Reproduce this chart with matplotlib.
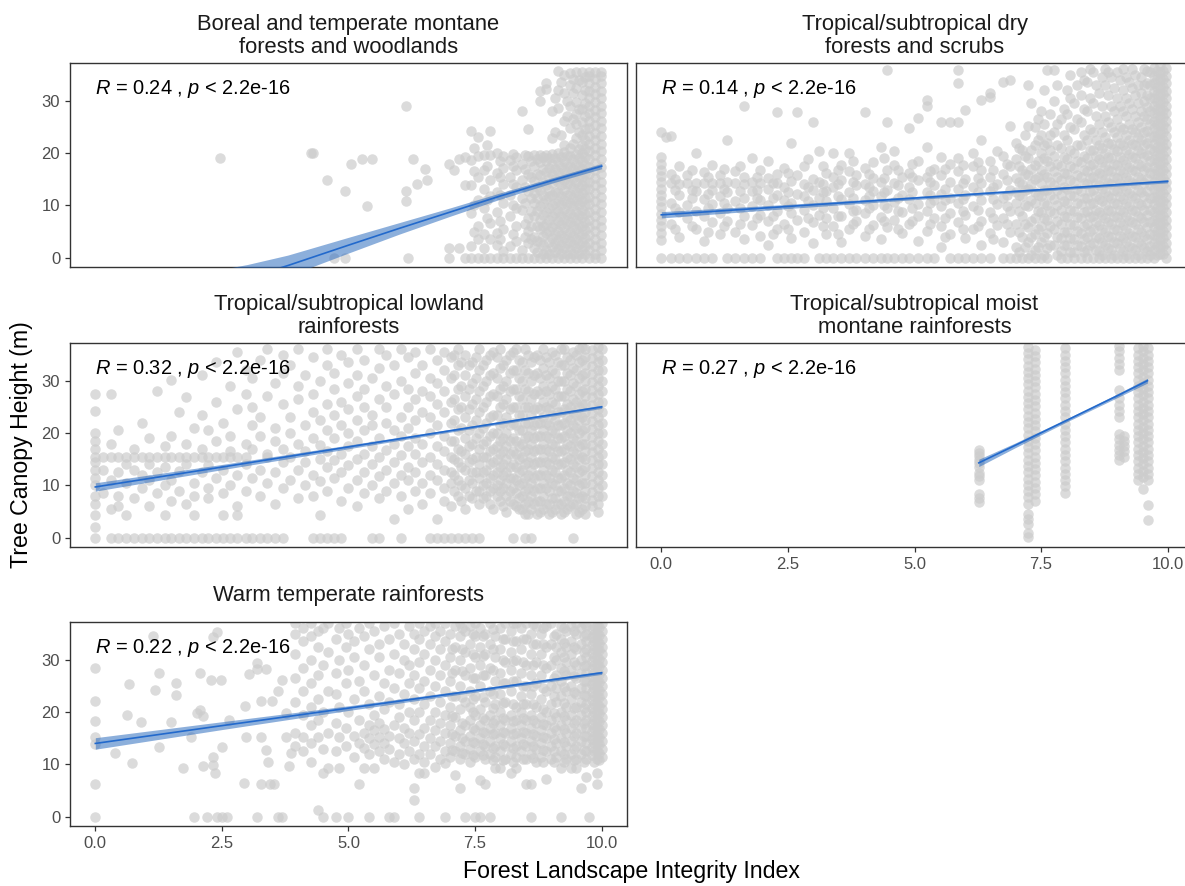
import matplotlib
matplotlib.use("Agg")
import matplotlib.pyplot as plt
import numpy as np

plt.rcParams["font.family"] = ["Liberation Sans", "DejaVu Sans"]
plt.rcParams["mathtext.fontset"] = "custom"
plt.rcParams["mathtext.rm"] = "Liberation Sans"
plt.rcParams["mathtext.it"] = "Liberation Sans:italic"

# Each panel: x positions (FLII) and the canopy heights observed at each x.
# The *_dense_* lists hold the extra sites packed into the crowded high-FLII end.

# Boreal and temperate montane forests and woodlands
boreal_x = [2.47, 4.25, 4.3, 4.57, 4.71, 4.93, 5.04, 5.26, 5.36, 5.47,
            6.14, 6.18, 6.27, 6.36, 6.51, 6.56, 6.99, 7.08, 7.19, 7.3,
            7.42, 7.55, 7.68, 7.8, 7.93, 8.06, 8.18, 8.3, 8.42, 8.54,
            8.66, 8.78, 8.9, 9.02, 9.14, 9.26, 9.38, 9.5, 9.62, 9.74,
            9.86, 9.98]
boreal_y = [
    [19.0], [20.0], [20.1], [14.9], [0.0], [12.8, 0.0], [18.0], [18.9], [9.9], [18.9],
    [29.0, 12.8, 10.9], [0.0], [18.9], [14.0], [17.0], [14.9], [18.0, 1.8, 0.0], [16.7],
    [18.9, 1.8], [19.2, 13.9, 0.0],
    [0, 2.2, 8.5, 13.9, 18.6, 24.2],
    [0, 3.5, 6.0, 11.0, 15.5, 19.4, 23.0],
    [0, 1.8, 4.5, 9.5, 13.2, 16.8, 19.6],
    [0, 3.5, 6.6, 11.8, 14.9, 19.6, 24.2],
    [0, 2.5, 4.8, 8.8, 12.5, 16.1, 20.0],
    [0, 1.2, 5.5, 10.4, 14.0, 17.2, 19.5],
    [0, 2.2, 7.9, 12.0, 15.5, 18.6],
    [0, 3.2, 6.0, 9.5, 13.6, 16.8, 19.3],
    [0, 1.5, 9.2, 11.5, 14.9, 18.0, 28.1],
    [0, 2.8, 5.2, 7.6, 12.8, 16.0, 19.5, 24.5],
    [0, 1.8, 4.0, 7.9, 10.5, 12.3, 14.6, 17.5, 19.6],
    [0, 3.0, 5.5, 7.3, 9.8, 13.0, 15.8, 18.2, 19.6, 29.9, 31.8],
    [0, 1.5, 4.8, 6.5, 8.8, 11.2, 13.8, 16.4, 18.5, 19.7, 32.2, 33.4],
    [0, 2.0, 3.8, 5.8, 8.0, 10.0, 12.0, 14.2, 16.0, 17.9, 19.8, 22.9, 28.0],
    [0, 1.6, 3.4, 5.2, 7.0, 9.0, 10.8, 12.6, 14.5, 16.4, 18.2, 20.0, 28.6, 32.0, 35.6],
    [0, 1.9, 3.7, 5.6, 7.4, 9.3, 11.1, 13.0, 14.8, 16.7, 18.5, 20.2, 21.6, 26.1, 31.4, 35.0],
    [0, 1.4, 3.2, 5.0, 6.8, 8.6, 10.4, 12.2, 14.0, 15.8, 17.6, 19.4, 21.0, 24.8, 29.0, 33.0, 35.2],
    [0, 1.8, 3.6, 5.4, 7.2, 9.0, 10.8, 12.6, 14.4, 16.2, 18.0, 19.8, 22.9, 25.5, 27.4, 29.8, 32.5, 35.4],
    [0, 1.5, 3.0, 4.6, 6.1, 7.7, 9.2, 10.8, 12.3, 13.9, 15.4, 17.0, 18.5, 20.1, 21.6, 23.5, 26.0,
     28.5, 31.0, 33.5, 35.4],
    [0, 1.5, 2.9, 4.4, 5.8, 7.3, 8.7, 10.2, 11.6, 13.1, 14.5, 16.0, 17.4, 18.9, 20.3, 21.8, 23.2,
     24.7, 26.1, 27.6, 29.0, 30.5, 31.9, 33.4, 34.8, 35.5],
    [0, 0.8, 2.2, 3.6, 5.1, 6.5, 8.0, 9.4, 10.9, 12.3, 13.8, 15.2, 16.7, 18.1, 19.6, 21.0, 22.5,
     23.9, 25.4, 26.8, 28.3, 29.7, 31.2, 32.6, 34.1, 35.5],
    [0, 1.5, 2.9, 4.4, 5.8, 7.3, 8.7, 10.2, 11.6, 13.1, 14.5, 16.0, 17.4, 18.9, 20.3, 21.8, 23.2,
     24.7, 26.1, 27.6, 29.0, 30.5, 31.9, 33.4, 34.8, 35.5],
]
boreal_dense_x = [7.48, 7.74, 8.0, 8.24, 8.48, 8.6, 8.72, 8.84, 8.96, 9.08,
                  9.2, 9.32, 9.44, 9.56, 9.68]
boreal_dense_y = [
    [5.0, 10.0, 16.5, 21.0],
    [7.5, 11.0, 17.5, 21.5],
    [3.5, 7.0, 12.0, 15.5, 18.5],
    [4.5, 10.0, 14.0, 17.5, 19.8],
    [4.0, 6.5, 10.5, 13.5, 17.0, 19.7],
    [3.5, 6.0, 9.0, 11.5, 15.5, 18.5],
    [1.0, 3.2, 6.0, 9.0, 11.5, 13.5, 16.0, 18.8],
    [0.8, 2.5, 4.2, 6.0, 8.2, 10.5, 12.0, 14.5, 17.0, 19.2],
    [0.8, 3.0, 5.2, 7.2, 9.5, 11.8, 13.0, 15.2, 17.2, 19.0],
    [1.0, 2.8, 4.6, 6.5, 8.5, 10.5, 12.5, 15.0, 17.0, 19.0, 24.0, 30.5],
    [0.8, 2.5, 4.4, 6.2, 8.0, 10.0, 11.8, 13.8, 15.5, 17.3, 19.2, 23.5, 33.5],
    [0.8, 2.8, 4.6, 6.5, 8.3, 10.2, 12.0, 14.0, 15.8, 17.6, 19.5, 27.0, 30.0],
    [0.8, 2.5, 4.2, 6.0, 7.8, 9.8, 11.5, 13.3, 15.2, 17.0, 18.8, 21.8, 26.5, 31.5, 34.2],
    [0.8, 2.7, 4.5, 6.3, 8.2, 10.0, 11.8, 13.6, 15.5, 17.3, 19.0, 20.8, 24.0, 28.5, 34.0],
    [0.8, 2.2, 3.8, 5.3, 6.9, 8.4, 10.0, 11.5, 13.1, 14.6, 16.2, 17.7, 19.3, 20.8, 22.5, 24.5,
     27.0, 29.5, 32.0, 34.5],
]
boreal_fit_x = [2.5, 3.0, 3.8, 5.0, 6.0, 7.0, 8.0, 9.0, 10.0]
boreal_fit_y = [-5.6, -3.9, -1.5, 2.4, 5.6, 8.7, 11.8, 14.7, 17.5]
boreal_fit_se = [3.4, 2.6, 2.0, 1.5, 1.1, 0.8, 0.6, 0.5, 0.5]

# Tropical/subtropical dry forests and scrubs
dry_x = [0.0, 0.1, 0.2, 0.35, 0.5, 0.68, 0.85, 1.0, 1.15, 1.3,
         1.45, 1.64, 1.8, 1.95, 2.1, 2.28, 2.42, 2.56, 2.67, 2.82,
         3.0, 3.12, 3.26, 3.4, 3.55, 3.7, 3.85, 4.03, 4.18, 4.33,
         4.45, 4.6, 4.75, 4.89, 5.06, 5.24, 5.38, 5.52, 5.7, 5.86,
         6.0, 6.16, 6.31, 6.5, 6.62, 6.75, 6.88, 7.0, 7.12, 7.25,
         7.38, 7.5, 7.62, 7.75, 7.9, 8.02, 8.15, 8.28, 8.4, 8.52,
         8.64, 8.76, 8.88, 9.0, 9.12, 9.24, 9.36, 9.48, 9.6, 9.72,
         9.84, 9.96]
dry_y = [
    [0, 3.4, 4.8, 6.0, 7.2, 8.4, 9.6, 10.8, 12.0, 13.2, 14.4, 15.6, 16.8, 18.0, 19.3, 24.1],
    [23.0],
    [0, 6.5, 10.5, 14.2, 16.0, 23.2],
    [0, 4.0, 8.8, 12.0, 14.0, 17.5],
    [0, 7.5, 10.0, 14.2, 15.8],
    [0, 5.5, 9.0, 12.8, 14.2, 20.1],
    [0, 3.2, 8.0, 11.2, 14.3, 16.4],
    [0, 6.8, 10.2, 13.0, 14.2, 17.8],
    [4.5, 8.6, 11.8, 14.2, 15.8],
    [0, 7.0, 9.5, 12.5, 14.4, 22.5],
    [0, 5.0, 10.8, 14.2, 16.5],
    [0, 3.5, 8.0, 11.5, 14.0, 15.5, 29.0],
    [0, 6.2, 9.8, 12.8, 14.4, 19.0],
    [0, 4.2, 8.2, 11.0, 14.2, 16.8],
    [2.5, 7.0, 10.0, 13.2, 15.2, 18.5],
    [0, 5.5, 9.0, 12.0, 14.3, 16.0, 27.9],
    [0, 6.5, 11.0, 13.5, 17.2],
    [0, 3.8, 8.5, 10.5, 14.6, 21.9],
    [0, 7.2, 12.2, 15.8, 27.9],
    [0, 5.0, 9.2, 11.8, 14.0, 17.5],
    [2.8, 6.8, 10.0, 13.0, 15.0, 26.0],
    [0, 8.2, 11.4, 14.5, 20.3],
    [0, 4.5, 7.5, 10.8, 12.8, 16.2],
    [0, 6.0, 9.5, 13.6, 15.5, 20.1],
    [0, 3.0, 8.0, 11.2, 14.8, 17.8],
    [0, 5.5, 10.2, 12.5, 16.5, 20.0],
    [0, 7.0, 9.2, 13.8, 15.8],
    [0, 4.2, 8.5, 11.0, 14.0, 17.2, 27.9],
    [0, 6.2, 10.0, 12.8, 15.2, 18.2],
    [0, 3.5, 7.8, 11.8, 14.5, 21.2],
    [0, 5.8, 9.5, 13.0, 16.8, 26.0, 35.8],
    [0, 7.2, 10.6, 14.2, 17.8, 20.3],
    [0, 4.8, 8.8, 12.0, 15.5],
    [0, 6.5, 11.2, 13.5, 16.2, 24.7],
    [0, 3.2, 8.0, 10.2, 14.8, 18.5, 26.6],
    [0, 5.2, 9.0, 12.6, 15.4, 21.2, 28.9, 30.1],
    [0, 7.5, 11.0, 13.8, 17.0],
    [2.0, 6.0, 9.8, 12.2, 15.8, 19.3, 26.0],
    [0, 4.5, 8.5, 11.5, 14.5, 18.0, 26.0],
    [0, 6.8, 10.5, 13.2, 16.5, 19.0, 26.0, 33.3, 35.8],
    [0, 3.8, 8.2, 12.0, 15.0, 28.2],
    [0, 5.5, 9.8, 13.5, 17.5, 20.0],
    [0, 2.5, 7.0, 11.0, 14.2, 16.8, 22.5, 30.1],
    [0, 4.8, 8.8, 12.8, 15.5, 18.5, 30.7, 31.4],
    [6.2, 10.2, 14.0, 20.3],
    [0, 3.0, 7.5, 11.5, 16.0, 19.5, 33.6],
    [0, 5.0, 9.0, 13.0, 17.5, 25.1, 34.0],
    [0, 2.0, 6.5, 10.5, 12.5, 15.2, 18.8, 22.0],
    [0, 4.0, 8.0, 11.8, 14.0, 16.8, 20.5],
    [0, 3.0, 5.8, 9.8, 13.2, 15.8, 19.0, 25.1, 33.0],
    [0, 1.5, 4.5, 7.5, 10.5, 12.5, 15.0, 17.8, 21.5, 25.0],
    [0, 3.0, 6.0, 8.8, 11.8, 14.2, 16.8, 20.0, 23.5, 28.0],
    [0, 1.8, 4.8, 7.2, 10.0, 13.0, 15.5, 18.5, 22.0, 35.8],
    [2.5, 5.5, 8.5, 11.2, 13.8, 16.5, 19.5, 24.0, 30.0, 35.8],
    [0, 1.2, 3.8, 6.5, 9.2, 12.0, 14.8, 17.5, 21.0, 26.5],
    [0, 2.5, 5.0, 7.8, 10.5, 13.2, 16.0, 18.8, 22.5, 27.5, 32.0],
    [0, 1.0, 3.5, 6.2, 9.0, 11.8, 14.5, 17.2, 20.0, 24.5, 29.5],
    [0, 2.2, 4.8, 7.5, 10.2, 12.8, 15.5, 18.2, 21.5, 26.0, 31.0, 35.5],
    [0, 1.5, 4.0, 6.5, 9.0, 11.5, 14.0, 16.5, 19.0, 22.5, 28.0, 33.5],
    [0, 2.8, 5.5, 8.0, 10.5, 13.0, 15.5, 18.0, 20.5, 24.0, 29.5, 35.5],
    [0, 1.2, 3.8, 6.2, 8.8, 11.2, 13.8, 16.2, 18.8, 21.5, 25.5, 31.5],
    [0, 2.5, 5.0, 7.5, 10.0, 12.5, 15.0, 17.5, 20.0, 23.0, 27.0, 33.0, 36.0],
    [0, 1.5, 4.0, 6.5, 9.0, 11.5, 14.0, 16.5, 19.0, 21.8, 25.0, 29.0, 34.5],
    [0, 2.8, 5.3, 7.8, 10.3, 12.8, 15.3, 17.8, 20.3, 23.0, 26.5, 30.5, 35.5],
    [0, 1.2, 3.7, 6.2, 8.7, 11.2, 13.7, 16.2, 18.7, 21.5, 24.5, 28.0, 32.0, 36.0],
    [0, 2.3, 4.8, 7.3, 9.8, 12.3, 14.8, 17.3, 19.8, 22.5, 25.5, 29.5, 33.5],
    [0, 1.5, 4.0, 6.5, 9.0, 11.5, 14.0, 16.5, 19.0, 21.5, 24.0, 27.0, 31.0, 35.0],
    [0, 2.5, 5.0, 7.5, 10.0, 12.5, 15.0, 17.5, 20.0, 22.5, 25.0, 28.0, 31.5, 34.5],
    [0, 1.3, 3.5, 5.8, 8.1, 10.4, 12.7, 15.0, 17.3, 19.6, 21.9, 24.2, 26.5, 28.8, 31.1, 33.4, 35.6],
    [0, 1.5, 2.9, 4.4, 5.8, 7.3, 8.7, 10.2, 11.6, 13.1, 14.5, 16.0, 17.4, 18.9, 20.3, 21.8, 23.2,
     24.7, 26.1, 27.6, 29.0, 30.5, 31.9, 33.4, 34.8, 36.2],
    [0.8, 2.2, 3.6, 5.1, 6.5, 8.0, 9.4, 10.9, 12.3, 13.8, 15.2, 16.7, 18.1, 19.6, 21.0, 22.5,
     23.9, 25.4, 26.8, 28.3, 29.7, 31.2, 32.6, 34.1, 35.5, 36.8],
    [0, 1.5, 2.9, 4.4, 5.8, 7.3, 8.7, 10.2, 11.6, 13.1, 14.5, 16.0, 17.4, 18.9, 20.3, 21.8, 23.2,
     24.7, 26.1, 27.6, 29.0, 30.5, 31.9, 33.4, 34.8, 36.2],
]
dry_dense_x = [0.28, 0.6, 0.93, 1.23, 1.55, 1.88, 2.2, 2.5, 2.9, 3.2,
               3.48, 3.78, 4.1, 4.4, 4.68, 4.96, 5.3, 5.6, 5.95, 6.25,
               6.56, 6.82, 7.06, 7.19, 7.31, 7.44, 7.56, 7.68, 7.82, 7.96,
               8.08, 8.21, 8.34, 8.46, 8.58, 8.7, 8.82, 8.94, 9.06, 9.18,
               9.3, 9.42, 9.54, 9.66, 9.78, 9.9]
dry_dense_y = [
    [5.5, 9.5, 13.0, 15.0],
    [6.0, 11.5, 13.0, 16.8],
    [5.0, 9.5, 12.2, 15.5],
    [6.0, 10.5, 13.2, 17.0],
    [6.5, 9.5, 12.8, 17.5],
    [7.5, 11.5, 13.0, 15.5],
    [4.5, 8.0, 11.5, 14.2],
    [5.5, 9.8, 12.5, 16.2],
    [7.5, 10.8, 13.5, 18.8],
    [6.0, 9.5, 12.5, 14.0, 17.5],
    [4.5, 8.0, 11.8, 14.0, 16.8],
    [6.5, 9.0, 11.5, 14.5, 18.5],
    [5.5, 9.5, 11.8, 13.5, 16.0],
    [7.0, 10.0, 12.5, 15.2, 19.0],
    [5.5, 9.0, 11.5, 13.8, 16.8],
    [7.0, 9.5, 12.5, 15.5, 18.0],
    [6.5, 10.5, 12.0, 14.5, 16.5],
    [4.0, 7.5, 11.0, 13.2, 17.0],
    [5.5, 9.0, 11.2, 14.2, 17.8],
    [6.0, 9.2, 12.5, 15.2, 18.2],
    [3.5, 7.5, 11.2, 13.5, 16.8],
    [6.5, 9.8, 12.0, 14.8, 18.0],
    [1.0, 5.0, 9.0, 12.0, 14.5, 17.5, 21.0],
    [2.0, 6.5, 10.0, 13.0, 16.0, 19.5, 23.5],
    [0.5, 4.0, 7.0, 11.0, 14.0, 17.0, 20.5, 29.5],
    [2.0, 5.5, 9.0, 12.0, 15.5, 18.5, 22.5, 26.5],
    [0.5, 4.0, 7.5, 10.5, 13.0, 16.0, 19.0, 21.5, 25.5, 32.0],
    [2.5, 6.0, 9.0, 12.0, 14.5, 17.5, 20.5, 23.5, 27.5],
    [0.5, 4.0, 7.0, 10.0, 13.0, 15.5, 18.0, 21.5, 25.5, 33.0],
    [2.5, 5.0, 8.0, 10.8, 13.5, 16.2, 19.2, 23.5, 28.5],
    [1.0, 3.8, 6.5, 9.2, 12.0, 14.8, 17.5, 20.5, 25.0, 30.5, 35.0],
    [2.5, 5.2, 7.8, 10.5, 13.2, 15.8, 18.5, 21.5, 26.5, 33.0],
    [1.0, 3.5, 6.0, 8.8, 11.5, 14.2, 16.8, 19.5, 23.5, 28.5, 34.0],
    [2.5, 5.2, 7.8, 10.2, 12.8, 15.2, 17.8, 20.5, 24.5, 30.5, 36.0],
    [1.5, 4.0, 6.8, 9.2, 11.8, 14.2, 16.8, 19.5, 22.5, 27.0, 33.0],
    [0.5, 3.0, 5.5, 8.2, 10.8, 13.2, 15.8, 18.2, 21.0, 24.0, 29.0, 34.5],
    [1.8, 4.2, 6.8, 9.2, 11.8, 14.2, 16.8, 19.2, 22.0, 26.0, 31.0, 35.5],
    [0.5, 3.0, 5.5, 8.0, 10.5, 13.0, 15.5, 18.0, 20.8, 24.0, 28.0, 32.5],
    [1.8, 4.2, 6.8, 9.2, 11.8, 14.2, 16.8, 19.2, 22.0, 25.0, 29.0, 34.0],
    [0.5, 3.0, 5.5, 8.0, 10.5, 13.0, 15.5, 18.0, 20.5, 23.5, 27.0, 30.5, 34.5],
    [1.8, 4.2, 6.8, 9.2, 11.8, 14.2, 16.8, 19.2, 21.8, 24.5, 28.5, 32.5, 36.0],
    [0.5, 3.0, 5.5, 8.0, 10.5, 13.0, 15.5, 18.0, 20.5, 23.0, 26.0, 29.5, 33.0],
    [1.8, 4.2, 6.8, 9.2, 11.8, 14.2, 16.8, 19.2, 21.5, 24.0, 27.0, 30.0, 33.0, 36.0],
    [0.5, 2.2, 4.5, 6.8, 9.2, 11.5, 13.8, 16.2, 18.5, 20.8, 23.0, 25.5, 28.0, 30.5, 33.0, 35.5],
    [0.5, 2.2, 3.7, 5.2, 6.6, 8.0, 9.5, 11.0, 12.4, 13.9, 15.3, 16.8, 18.2, 19.7, 21.1, 22.6,
     24.0, 25.5, 26.9, 28.4, 29.8, 31.3, 32.7, 34.2, 35.6],
    [0.8, 2.2, 3.7, 5.1, 6.6, 8.0, 9.5, 10.9, 12.4, 13.8, 15.3, 16.7, 18.2, 19.6, 21.1, 22.5,
     24.0, 25.4, 26.9, 28.3, 29.8, 31.2, 32.7, 34.1, 35.6],
]
dry_fit_x = [0.0, 2.5, 5.0, 7.5, 10.0]
dry_fit_y = [8.2, 9.8, 11.4, 13.0, 14.6]
dry_fit_se = [0.6, 0.4, 0.3, 0.25, 0.3]

# Tropical/subtropical lowland rainforests
lowland_x = [0.0, 0.15, 0.3, 0.45, 0.6, 0.77, 0.92, 1.07, 1.22, 1.37,
             1.5, 1.65, 1.8, 1.95, 2.1, 2.23, 2.38, 2.52, 2.66, 2.8,
             2.97, 3.1, 3.25, 3.4, 3.55, 3.7, 3.85, 4.0, 4.15, 4.3,
             4.43, 4.58, 4.72, 4.86, 5.0, 5.16, 5.3, 5.46, 5.6, 5.75,
             5.89, 6.04, 6.18, 6.32, 6.46, 6.6, 6.74, 6.88, 7.02, 7.16,
             7.3, 7.44, 7.58, 7.72, 7.86, 8.0, 8.12, 8.24, 8.36, 8.48,
             8.6, 8.72, 8.84, 8.96, 9.08, 9.2, 9.32, 9.44, 9.56, 9.68,
             9.8, 9.92, 10.0]
lowland_y = [
    [0, 2.0, 4.3, 6.5, 8.0, 10.0, 11.5, 13.0, 14.5, 15.5, 17.0, 18.5, 20.0, 24.3, 27.5],
    [15.5, 13.0, 8.5],
    [0, 15.5, 11.0, 5.5, 18.0, 27.5],
    [0, 15.5, 12.5, 8.0, 20.5, 6.0],
    [0, 15.5, 10.5, 14.0, 4.3],
    [0, 15.5, 13.0, 7.5, 17.0],
    [0, 15.5, 12.0, 9.5, 22.0],
    [0, 15.5, 14.0, 6.0, 19.0, 11.0],
    [0, 15.5, 8.5, 12.5, 28.0],
    [0, 15.5, 13.5, 10.0, 17.5, 4.3],
    [0, 15.5, 11.0, 7.0, 19.5, 30.1],
    [0, 15.5, 12.8, 9.0, 24.0],
    [0, 15.5, 14.0, 6.5, 18.0, 26.9],
    [0, 15.5, 10.5, 8.0, 21.0, 4.3],
    [0, 15.5, 12.5, 17.0, 23.5, 31.0],
    [0, 15.5, 13.8, 7.5, 9.5, 20.5],
    [0, 15.5, 11.5, 18.5, 26.0, 33.5],
    [0, 15.5, 13.0, 8.5, 22.0, 4.3],
    [0, 15.5, 10.0, 16.5, 19.5, 29.0],
    [0, 15.5, 12.0, 6.0, 24.5, 4.3, 35.5],
    [0, 15.5, 14.0, 9.0, 18.0, 27.5, 32.0],
    [0, 11.5, 17.0, 21.5, 25.0, 30.5],
    [0, 13.0, 8.0, 19.5, 23.0, 34.0],
    [0, 15.5, 10.5, 16.0, 27.0, 36.0],
    [0, 12.5, 6.5, 18.5, 21.0, 29.5],
    [0, 14.5, 9.5, 17.0, 25.5, 31.5, 35.0],
    [11.0, 15.5, 20.0, 23.0, 33.0],
    [7.5, 13.0, 18.0, 26.5, 29.0, 36.0],
    [10.0, 14.5, 16.5, 21.5, 31.0],
    [0, 8.0, 12.0, 19.0, 24.0, 27.5, 34.5],
    [0, 4.3, 10.8, 15.0, 17.8, 22.5, 30.0],
    [0, 9.0, 13.5, 16.5, 20.5, 25.5, 33.0, 36.0],
    [0, 11.5, 14.8, 19.0, 23.5, 28.5, 31.5],
    [0, 7.0, 12.5, 16.0, 21.5, 26.0, 35.0],
    [9.5, 13.8, 17.5, 20.0, 24.5, 29.5, 33.5],
    [6.0, 11.0, 15.0, 18.5, 22.5, 27.0, 31.0, 36.0],
    [8.5, 12.5, 16.0, 20.5, 25.0, 28.5, 34.0],
    [0, 10.0, 14.0, 17.5, 21.5, 23.5, 30.5],
    [0, 7.5, 11.8, 15.5, 19.0, 26.5, 32.5, 36.0],
    [9.0, 13.0, 16.8, 22.0, 25.0, 29.0, 35.0],
    [3.5, 10.5, 14.5, 18.0, 20.5, 27.5, 33.0],
    [0, 8.0, 12.0, 15.8, 19.5, 23.0, 30.0, 36.0],
    [5.5, 11.0, 13.5, 17.5, 21.0, 25.0, 28.5, 34.5],
    [9.0, 12.5, 16.0, 19.0, 22.5, 26.5, 31.5, 35.5],
    [6.5, 10.5, 14.5, 18.0, 24.0, 28.0, 33.0],
    [0, 8.5, 12.0, 15.5, 20.0, 23.0, 27.0, 30.5, 36.0],
    [0, 3.5, 11.0, 14.0, 17.5, 21.5, 25.5, 29.5, 34.0],
    [0, 7.0, 9.5, 13.0, 16.5, 19.5, 24.0, 28.0, 32.0, 35.5],
    [0, 6.0, 10.5, 12.5, 15.5, 18.5, 22.0, 26.0, 30.5, 34.5],
    [0, 8.0, 11.0, 14.5, 17.0, 20.5, 24.5, 28.5, 33.0, 36.0],
    [0, 5.5, 9.5, 13.0, 16.0, 19.0, 23.0, 27.0, 31.0, 35.0],
    [0, 7.5, 10.5, 12.5, 15.0, 18.0, 21.5, 25.5, 29.5, 33.5],
    [0, 6.5, 9.0, 11.5, 14.0, 17.0, 20.0, 24.0, 28.0, 32.0, 36.0],
    [8.0, 10.5, 13.0, 15.5, 18.5, 22.0, 26.0, 30.0, 34.0],
    [5.5, 9.5, 12.0, 14.5, 17.0, 20.0, 23.5, 27.5, 31.5, 35.5],
    [7.0, 9.0, 11.0, 13.5, 16.0, 18.5, 21.5, 25.0, 28.5, 32.5, 36.0],
    [5.0, 8.0, 10.5, 12.5, 15.0, 17.5, 20.0, 23.0, 26.5, 30.0, 34.0],
    [0, 6.5, 9.5, 11.5, 14.0, 16.5, 19.0, 22.0, 25.0, 28.5, 32.0, 35.5],
    [5.5, 7.5, 10.0, 12.5, 15.0, 17.5, 20.5, 23.5, 27.0, 30.5, 34.0],
    [0, 4.5, 6.5, 9.0, 11.5, 14.0, 16.5, 19.0, 22.0, 25.0, 28.5, 32.0, 36.0],
    [0, 5.5, 8.0, 10.5, 13.0, 15.5, 18.0, 20.5, 23.5, 26.5, 30.0, 33.5],
    [4.5, 7.0, 9.5, 12.0, 14.5, 17.0, 19.5, 22.0, 25.0, 28.0, 31.5, 35.0],
    [5.5, 8.0, 10.5, 13.0, 15.5, 18.0, 20.5, 23.0, 26.0, 29.0, 32.5, 36.0],
    [4.5, 6.5, 9.0, 11.5, 14.0, 16.5, 19.0, 21.5, 24.5, 27.5, 30.5, 33.5],
    [5.5, 7.5, 10.0, 12.5, 15.0, 17.5, 20.0, 22.5, 25.5, 28.5, 31.5, 35.0],
    [4.5, 6.5, 9.0, 11.5, 14.0, 16.5, 19.0, 21.5, 24.0, 27.0, 30.0, 33.0, 36.0],
    [5.5, 8.0, 10.5, 13.0, 15.5, 18.0, 20.5, 23.0, 25.5, 28.5, 31.5, 34.5],
    [0, 6.5, 9.0, 11.5, 14.0, 16.5, 19.0, 21.5, 24.0, 26.5, 29.5, 32.5, 35.5],
    [5.0, 7.5, 10.0, 12.5, 15.0, 17.5, 20.0, 22.5, 25.0, 27.5, 30.5, 33.5, 36.0],
    [4.5, 6.0, 7.5, 9.0, 10.5, 12.0, 13.5, 15.0, 16.5, 18.0, 19.5, 21.0, 22.5, 24.0, 25.5, 27.0,
     28.5, 30.0, 31.5, 33.0, 34.5, 36.0],
    [6.0, 7.3, 8.8, 10.3, 11.8, 13.3, 14.8, 16.3, 17.8, 19.3, 20.8, 22.3, 23.8, 25.3, 26.8, 28.3,
     29.8, 31.3, 32.8, 34.3, 35.8],
    [5.0, 6.5, 8.0, 9.5, 11.0, 12.5, 14.0, 15.5, 17.0, 18.5, 20.0, 21.5, 23.0, 24.5, 26.0, 27.5,
     29.0, 30.5, 32.0, 33.5, 35.0, 36.5],
    [8.0, 10.0, 12.0, 14.0, 16.0, 18.0, 20.0, 22.0, 24.0, 26.0, 28.0, 30.0, 32.0, 34.0, 36.0],
]
lowland_dense_x = [7.09, 7.23, 7.37, 7.51, 7.65, 7.79, 7.93, 8.06, 8.18, 8.3,
                   8.42, 8.54, 8.66, 8.78, 8.9, 9.02, 9.14, 9.26, 9.38, 9.5,
                   9.62]
lowland_dense_y = [
    [9.0, 12.0, 15.0, 18.5, 22.5, 26.5, 31.0, 35.0],
    [7.0, 10.0, 13.5, 16.5, 21.0, 25.0, 29.0, 33.5],
    [8.0, 11.0, 14.5, 17.5, 20.5, 24.5, 28.5, 33.0],
    [9.0, 12.5, 15.5, 19.0, 22.5, 26.5, 30.5, 34.5],
    [7.5, 10.0, 12.5, 15.5, 18.0, 21.0, 25.0, 29.0, 33.0],
    [6.5, 9.0, 11.5, 14.0, 16.5, 19.5, 23.0, 27.0, 31.0, 35.0],
    [8.0, 10.0, 12.5, 15.0, 17.5, 20.0, 23.5, 27.0, 30.5, 34.5],
    [6.0, 9.5, 12.0, 14.0, 16.5, 19.0, 22.0, 25.5, 29.0, 33.0],
    [7.0, 9.0, 11.5, 13.5, 16.0, 18.5, 21.5, 24.5, 28.0, 31.5, 35.0],
    [6.0, 8.5, 11.0, 13.5, 16.0, 18.5, 21.5, 25.0, 28.5, 32.0, 36.0],
    [5.5, 8.0, 10.5, 13.0, 15.5, 18.0, 20.5, 23.5, 26.5, 30.0, 33.5],
    [4.5, 7.0, 9.5, 12.0, 14.5, 17.0, 19.5, 22.0, 25.0, 28.0, 31.5, 35.0],
    [6.5, 9.0, 11.5, 14.0, 16.5, 19.0, 21.5, 24.5, 27.5, 31.0, 34.5],
    [5.0, 7.0, 9.5, 12.0, 14.5, 17.0, 19.5, 22.0, 24.5, 27.5, 30.5, 34.0],
    [6.5, 9.5, 12.0, 14.5, 17.0, 19.5, 22.0, 25.0, 28.0, 31.0, 34.5],
    [5.0, 7.5, 10.5, 13.0, 15.5, 18.0, 20.5, 23.5, 26.0, 29.0, 32.0, 35.5],
    [6.5, 9.0, 11.5, 14.0, 16.5, 19.0, 21.5, 24.0, 27.0, 30.0, 33.5],
    [5.0, 7.0, 9.5, 12.0, 14.5, 17.0, 19.5, 22.0, 24.5, 27.0, 30.0, 33.0, 36.0],
    [6.0, 8.0, 10.0, 12.5, 15.0, 17.5, 20.0, 22.5, 25.0, 28.0, 31.0, 34.0],
    [4.5, 6.5, 8.5, 11.0, 13.5, 16.0, 18.5, 21.0, 23.5, 26.0, 29.0, 32.0, 35.0],
    [5.5, 8.0, 10.5, 13.0, 15.5, 18.0, 20.5, 23.0, 25.5, 28.0, 31.0, 34.0, 36.5],
]
lowland_fit_x = [0.0, 2.5, 5.0, 7.5, 10.0]
lowland_fit_y = [9.7, 13.5, 17.35, 21.2, 25.0]
lowland_fit_se = [0.8, 0.5, 0.35, 0.25, 0.3]

# Tropical/subtropical moist montane rainforests
montane_x = [6.27, 7.25, 7.38, 7.98, 9.04, 9.14, 9.42, 9.52, 9.62]
montane_y = [
    [6.8, 7.6, 8.4, 11.0, 11.8, 12.4, 13.5, 14.2, 14.9, 15.6, 16.2, 16.7],
    [0.1, 0.9, 2.7, 3.5, 4.6, 6.5, 7.7, 8.9, 10.1, 11.3, 12.5, 13.7, 14.9, 16.1, 17.3, 18.5,
     19.7, 20.9, 22.1, 23.3, 24.5, 25.7, 26.9, 28.1, 29.3, 30.5, 31.7, 32.9, 34.1, 35.3, 36.5],
    [7.1, 8.3, 9.5, 10.7, 11.9, 13.1, 14.3, 15.5, 16.7, 17.9, 19.1, 20.3, 21.5, 22.7, 23.9,
     25.1, 26.3, 27.5, 28.7, 29.9, 31.1, 32.3, 33.5, 34.7, 35.9],
    [8.6, 9.8, 11.0, 12.2, 13.4, 14.6, 15.8, 17.0, 18.2, 19.4, 20.6, 21.8, 23.0, 24.2, 25.4,
     26.6, 27.8, 29.0, 30.2, 31.4, 32.6, 33.8, 35.0, 36.2],
    [14.8, 15.8, 16.8, 17.8, 18.8, 19.9, 23.0, 24.2, 25.4, 26.6, 28.2, 32.0, 33.2, 34.4, 35.6, 36.6],
    [15.5, 16.5, 17.5, 18.5, 19.5],
    [11.0, 12.2, 13.4, 14.6, 15.8, 17.0, 18.2, 19.4, 20.6, 21.8, 23.0, 24.2, 25.4, 26.6, 27.8,
     29.0, 30.2, 31.4, 32.6, 33.8, 35.0, 36.2],
    [9.4, 11.6, 12.8, 14.0, 15.2, 16.4, 17.6, 18.8, 20.0, 21.2, 22.4, 23.6, 24.8, 26.0, 27.2,
     28.4, 29.6, 30.8, 32.0, 33.2, 34.4, 35.6, 36.6],
    [3.3, 6.2, 11.0, 12.2, 13.4, 14.6, 15.8, 17.0, 18.2, 19.4, 20.6, 21.8, 23.0, 24.2, 25.4,
     26.6, 27.8, 29.0, 30.2, 31.4, 32.6, 33.8, 35.0, 36.2],
]
montane_dense_x = []
montane_dense_y = []
montane_fit_x = [6.27, 7.0, 8.0, 9.0, 9.6]
montane_fit_y = [14.3, 17.7, 22.4, 27.1, 30.0]
montane_fit_se = [0.7, 0.45, 0.3, 0.35, 0.45]

# Warm temperate rainforests
warm_x = [0.0, 0.39, 0.62, 0.66, 0.73, 0.91, 1.13, 1.18, 1.26, 1.5,
          1.6, 1.74, 1.88, 1.95, 2.0, 2.06, 2.12, 2.2, 2.29, 2.32,
          2.36, 2.4, 2.48, 2.5, 2.6, 2.64, 2.93, 2.95, 2.97, 3.04,
          3.19, 3.2, 3.28, 3.37, 3.41, 3.45, 3.49, 3.53, 3.61, 3.69,
          3.77, 3.83, 3.87, 3.95, 4.1, 4.25, 4.4, 4.5, 4.6, 4.75,
          4.82, 4.95, 5.0, 5.1, 5.2, 5.3, 5.4, 5.5, 5.6, 5.7,
          5.8, 5.9, 6.0, 6.1, 6.2, 6.3, 6.4, 6.5, 6.6, 6.7,
          6.8, 6.9, 7.0, 7.1, 7.2, 7.3, 7.4, 7.5, 7.6, 7.7,
          7.8, 7.9, 8.0, 8.1, 8.2, 8.3, 8.4, 8.5, 8.6, 8.7,
          8.8, 8.9, 9.0, 9.1, 9.2, 9.3, 9.4, 9.5, 9.6, 9.7,
          9.75, 9.8, 9.9, 10.0]
warm_y = [
    [0, 6.3, 13.9, 15.2, 18.3, 22.2, 28.4], [12.1], [19.4], [25.4], [10.2], [18.1], [34.5],
    [24.3], [27.4, 13.4], [18.1],
    [25.5, 23.2], [9.3], [15.2], [0], [19.8], [20.4, 27.4], [19.3, 9.6], [0], [26.1],
    [9.9, 11.5, 34.3],
    [8.3], [35.3, 0], [26.1], [13.4, 0], [0], [18.5], [6.4], [21.2], [15.2], [27.3],
    [29.3], [28.3, 0], [22.2, 15.2, 6.3], [28.3, 12.7], [10.5], [6.3], [22.2], [6.3],
    [24.1, 0], [26.1, 0],
    [19.8, 15.2], [9.6], [12.1],
    [37.0, 35.0, 31.0, 26.5, 22.0, 16.0, 13.5],
    [36.0, 33.5, 28.5, 24.0, 19.5, 15.2, 12.5],
    [37.0, 34.5, 30.0, 25.5, 21.0, 17.5, 14.0, 10.5],
    [35.5, 32.5, 27.0, 22.5, 18.5, 15.2, 1.2],
    [0, 8.3, 13.0, 20.0, 29.0, 36.0],
    [9.3, 16.0, 24.0, 31.5, 37.0],
    [0, 12.5, 18.0, 23.5, 27.5, 34.0],
    [9.3, 15.2, 21.0, 30.0, 36.0],
    [13.5, 17.0, 25.5, 32.5, 37.0],
    [0, 20.0, 28.0, 35.0],
    [11.5, 15.5, 22.5, 30.5, 33.5],
    [6.3, 14.0, 18.5, 26.0, 36.0],
    [9.3, 13.2, 16.0, 24.0, 29.0, 34.5],
    [0, 12.0, 15.0, 17.5, 21.5, 32.0, 37.0],
    [9.3, 13.8, 16.5, 19.5, 27.0, 35.5],
    [12.5, 15.2, 18.0, 23.0, 30.5, 33.0],
    [11.0, 14.0, 16.8, 20.5, 25.5, 36.5],
    [0, 13.0, 15.5, 22.0, 28.0, 34.0],
    [0, 10.5, 17.5, 24.5, 31.0, 37.0],
    [12.0, 15.0, 19.0, 21.5, 27.5, 35.0],
    [10.0, 14.0, 17.0, 23.5, 30.0, 33.0],
    [12.5, 16.0, 20.0, 25.5, 29.0, 36.5],
    [3.2, 5.5, 11.0, 14.5, 18.5, 22.5, 27.0, 32.0, 35.0],
    [0, 8.3, 12.0, 15.8, 20.0, 24.5, 29.5, 34.0, 37.0],
    [8.3, 10.5, 13.5, 17.0, 21.5, 26.0, 31.0, 35.5],
    [12.0, 15.0, 18.5, 23.0, 28.0, 33.0, 36.5],
    [9.5, 13.5, 16.5, 20.0, 25.0, 30.0, 34.5, 37.0],
    [11.0, 14.5, 18.0, 22.0, 27.0, 32.0, 35.5],
    [0, 10.2, 12.5, 16.0, 19.5, 24.0, 29.0, 33.5, 37.0],
    [11.5, 14.0, 17.5, 21.0, 26.0, 30.5, 35.0],
    [8.0, 12.5, 15.5, 19.0, 23.0, 28.0, 32.5, 36.5],
    [5.5, 11.0, 13.5, 16.5, 20.5, 25.0, 30.0, 34.5, 37.0],
    [0, 12.0, 14.5, 17.5, 22.0, 27.0, 31.5, 35.5],
    [10.5, 13.0, 15.5, 18.5, 21.0, 24.0, 28.5, 33.0, 36.5],
    [0, 11.5, 14.0, 16.5, 19.5, 23.0, 26.5, 30.5, 34.5, 37.0],
    [0, 7.0, 12.5, 15.0, 17.5, 20.5, 25.0, 29.0, 32.5, 36.0],
    [6.3, 11.0, 13.5, 16.0, 18.5, 22.0, 27.0, 31.0, 35.0],
    [0, 12.0, 14.5, 17.0, 19.5, 24.0, 28.5, 33.0, 37.0],
    [9.3, 11.5, 13.5, 16.0, 18.5, 21.5, 26.0, 30.5, 34.5],
    [9.3, 12.5, 15.0, 17.5, 20.0, 23.5, 27.5, 32.0, 36.0],
    [11.0, 13.5, 16.0, 18.5, 22.0, 25.5, 29.5, 34.0, 37.0],
    [8.3, 12.0, 14.5, 17.0, 19.5, 24.0, 28.0, 31.5, 35.5],
    [9.3, 11.5, 13.5, 16.0, 18.5, 21.0, 26.0, 30.0, 33.5, 37.0],
    [12.5, 15.0, 17.5, 20.0, 23.0, 27.5, 32.0, 36.0],
    [6.3, 11.0, 13.5, 16.0, 18.5, 21.5, 25.0, 29.0, 34.0, 37.0],
    [0, 6.3, 12.0, 14.5, 17.0, 19.5, 23.5, 27.0, 31.0, 35.0],
    [10.5, 13.0, 15.5, 18.0, 21.0, 25.5, 29.5, 33.0, 36.5],
    [11.5, 14.0, 16.5, 19.0, 22.5, 27.0, 31.0, 35.0],
    [7.3, 12.5, 15.0, 17.5, 20.0, 24.0, 28.5, 32.5, 36.5],
    [11.0, 13.5, 16.0, 18.5, 21.5, 25.0, 29.0, 33.0, 37.0],
    [11.5, 14.0, 16.5, 19.0, 22.0, 24.5, 27.0, 30.0, 32.5, 35.0],
    [0, 9.3, 12.5, 15.0, 17.5, 20.0, 23.0, 26.0, 28.5, 31.5, 34.0, 36.5],
    [11.0, 13.5, 16.0, 18.5, 21.0, 24.0, 27.0, 29.5, 32.5, 35.5],
    [9.3, 12.0, 14.5, 17.0, 19.5, 22.5, 25.0, 28.0, 31.0, 33.5, 36.5],
    [9.3, 11.0, 13.5, 16.0, 18.5, 21.0, 23.5, 26.5, 29.0, 32.0, 35.0, 37.0],
    [5.5, 12.0, 14.5, 17.0, 19.5, 22.0, 24.5, 27.5, 30.0, 33.0, 36.0],
    [7.6, 11.0, 12.5, 14.0, 15.5, 17.0, 18.5, 20.0, 21.5, 23.0, 24.5, 26.0, 27.5, 29.0, 30.5,
     32.0, 33.5, 35.0, 36.5],
    [0],
    [11.8, 13.3, 14.8, 16.3, 17.8, 19.3, 20.8, 22.3, 23.8, 25.3, 26.8, 28.3, 29.8, 31.3, 32.8,
     34.3, 35.8],
    [6.3, 8.3, 11.0, 12.5, 14.0, 15.5, 17.0, 18.5, 20.0, 21.5, 23.0, 24.5, 26.0, 27.5, 29.0,
     30.5, 32.0, 33.5, 35.0, 36.5],
    [11.5, 13.0, 14.5, 16.0, 17.5, 19.0, 20.5, 22.0, 23.5, 25.0, 26.5, 28.0, 29.5, 31.0, 32.5,
     34.0, 35.5, 37.0],
]
warm_dense_x = [7.05, 7.25, 7.45, 7.65, 7.85, 8.05, 8.25, 8.45, 8.65, 8.85,
                9.05, 9.25, 9.45, 9.65, 9.85, 9.95]
warm_dense_y = [
    [12.8, 15.8, 19.2, 23.0, 27.5, 32.0],
    [12.2, 15.0, 18.0, 22.8, 27.8, 32.0, 36.0],
    [11.8, 14.2, 17.0, 20.0, 22.5, 26.5, 31.0, 35.0],
    [11.8, 13.8, 16.2, 18.8, 22.8, 27.0, 30.8, 34.5],
    [10.8, 13.2, 15.8, 18.0, 20.8, 23.5, 28.0, 32.0, 35.8],
    [10.8, 13.8, 16.2, 18.8, 21.8, 25.5, 30.0, 34.0],
    [10.5, 13.2, 15.8, 18.2, 21.5, 26.0, 29.8, 33.5, 37.0],
    [11.0, 13.8, 16.2, 18.8, 21.5, 25.0, 29.5, 34.0],
    [11.2, 13.5, 15.8, 18.5, 21.5, 25.0, 29.0, 33.0, 36.8],
    [10.5, 12.8, 15.2, 17.8, 20.5, 24.5, 29.0, 33.0, 36.0],
    [10.5, 12.5, 14.8, 17.2, 19.8, 23.0, 26.5, 30.5, 34.5],
    [10.5, 12.0, 14.2, 16.8, 19.2, 21.8, 24.8, 27.8, 30.5, 33.2, 36.0],
    [10.8, 13.0, 15.5, 18.0, 20.8, 23.8, 26.8, 29.5, 32.5, 35.5],
    [10.5, 12.8, 15.5, 18.0, 20.8, 23.2, 26.0, 28.8, 31.5, 34.5, 37.0],
    [10.5, 12.5, 14.0, 15.5, 17.0, 18.5, 20.0, 21.5, 23.0, 24.5, 26.0, 27.5, 29.0, 30.5, 32.0,
     33.5, 35.0, 36.5],
    [10.8, 12.2, 13.8, 15.2, 16.8, 18.2, 19.8, 21.2, 22.8, 24.2, 25.8, 27.2, 28.8, 30.2, 31.8,
     33.2, 34.8, 36.2],
]
warm_fit_x = [0.0, 2.5, 5.0, 7.5, 10.0]
warm_fit_y = [14.0, 17.4, 20.75, 24.1, 27.5]
warm_fit_se = [1.1, 0.75, 0.45, 0.3, 0.3]

titles = [
    "Boreal and temperate montane\nforests and woodlands",
    "Tropical/subtropical dry\nforests and scrubs",
    "Tropical/subtropical lowland\nrainforests",
    "Tropical/subtropical moist\nmontane rainforests",
    "Warm temperate rainforests",
]
r_values = [0.24, 0.14, 0.32, 0.27, 0.22]
p_label = "2.2e-16"
x_ticks = [0.0, 2.5, 5.0, 7.5, 10.0]
y_ticks = [0, 10, 20, 30]

W, H = 1185, 886
PANEL_W, PANEL_H = 557, 204
# (left, top) of each panel in pixels, plus which axes carry ticks
layout = [
    (70, 63, False, True),
    (636, 63, False, False),
    (70, 343, False, True),
    (636, 343, True, False),
    (70, 622, True, True),
]

panels = [
    (boreal_x + boreal_dense_x, boreal_y + boreal_dense_y,
     boreal_fit_x, boreal_fit_y, boreal_fit_se),
    (dry_x + dry_dense_x, dry_y + dry_dense_y,
     dry_fit_x, dry_fit_y, dry_fit_se),
    (lowland_x + lowland_dense_x, lowland_y + lowland_dense_y,
     lowland_fit_x, lowland_fit_y, lowland_fit_se),
    (montane_x + montane_dense_x, montane_y + montane_dense_y,
     montane_fit_x, montane_fit_y, montane_fit_se),
    (warm_x + warm_dense_x, warm_y + warm_dense_y,
     warm_fit_x, warm_fit_y, warm_fit_se),
]


def flatten(xs, ys):
    px, py = [], []
    for x, col in zip(xs, ys):
        px.extend([x] * len(col))
        py.extend(col)
    return np.array(px), np.array(py)


fig = plt.figure(figsize=(W / 100, H / 100), dpi=100)

for i, (xs, ys, fx, fy, fse) in enumerate(panels):
    left, top, show_x, show_y = layout[i]
    ax = fig.add_axes([left / W, (H - top - PANEL_H) / H, PANEL_W / W, PANEL_H / H])

    px, py = flatten(xs, ys)
    ax.scatter(px, py, s=57, color="#CCCCCC", alpha=0.7, linewidths=0, zorder=2)

    fx = np.array(fx)
    fy = np.array(fy)
    fse = np.array(fse)
    ax.fill_between(fx, fy - fse, fy + fse, color="#2E6DBF", alpha=0.55,
                    linewidth=0, zorder=3)
    ax.plot(fx, fy, color="#2269CC", lw=1.2, zorder=4)

    ax.text(0, 32.3, f"$\\mathit{{R}}$ = {r_values[i]:.2f} , $\\mathit{{p}}$ < {p_label}",
            fontsize=14.4, color="black", ha="left", va="center", zorder=5)

    ax.set_xlim(-0.5, 10.5)
    ax.set_ylim(-1.77, 37.2)
    for sp in ax.spines.values():
        sp.set_color("#333333")
        sp.set_linewidth(1.0)

    ax.set_xticks(x_ticks)
    ax.set_yticks(y_ticks)
    ax.set_xticklabels([f"{t:.1f}" for t in x_ticks])
    ax.set_yticklabels([str(t) for t in y_ticks])
    ax.tick_params(axis="both", colors="#333333", labelcolor="#4D4D4D",
                   labelsize=12, length=3.6, width=0.9, pad=3.5)
    if not show_x:
        ax.tick_params(axis="x", bottom=False, labelbottom=False)
    if not show_y:
        ax.tick_params(axis="y", left=False, labelleft=False)

    ax.text(0.5, 1 + 27 / PANEL_H, titles[i], transform=ax.transAxes,
            ha="center", va="center", fontsize=15.8, color="#1A1A1A",
            linespacing=1.18)

fig.text(631.5 / W, (H - 878.3) / H, "Forest Landscape Integrity Index",
         ha="center", va="baseline", fontsize=16.7, color="black")
fig.text(22 / W, (H - 444.5) / H, "Tree Canopy Height (m)", rotation=90,
         ha="center", va="center", fontsize=16.7, color="black")

fig.savefig("out.png", dpi=100)
plt.close(fig)
